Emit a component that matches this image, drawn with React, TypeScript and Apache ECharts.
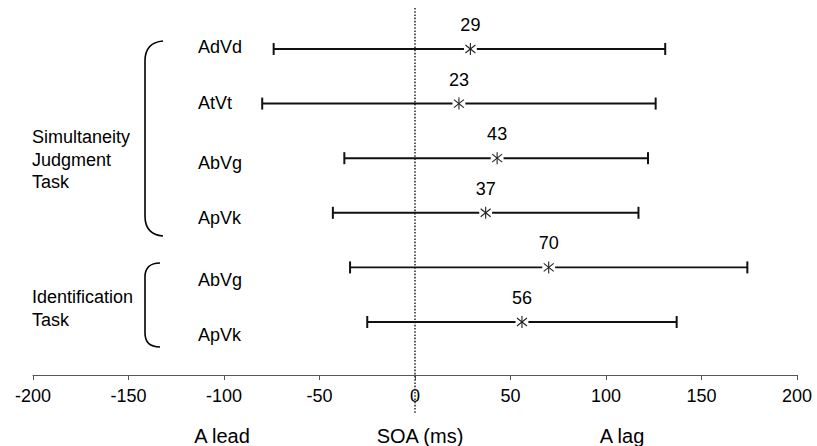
import React, { useEffect, useRef } from "react";
import * as echarts from "echarts";

// ---- data ----
const rowNames = ["AdVd", "AtVt", "AbVg", "ApVk", "AbVg", "ApVk"];
const lowerBounds = [-74, -80, -37, -43, -34, -25];
const upperBounds = [131, 126, 122, 117, 174, 137];
const means = [29, 23, 43, 37, 70, 56];
const xTicks = [-200, -150, -100, -50, 0, 50, 100, 150, 200];
const groupSim = ["Simultaneity", "Judgment", "Task"];
const groupId = ["Identification", "Task"];
const axisTitles = ["A lead", "SOA (ms)", "A lag"];

const FONT = "'Liberation Sans', Arial, Helvetica, sans-serif";

echarts.graphic.registerShape(
  "bracketTall",
  echarts.graphic.extendPath("M18,0 C6,1 0,8 0,20 L0,175 C0,187 6,194 18,195", {})
);
echarts.graphic.registerShape(
  "bracketShort",
  echarts.graphic.extendPath("M15,0 C5,0 0,5 0,14 L0,70 C0,79 5,84 15,84", {})
);

export default function App() {
  const ref = useRef<HTMLDivElement>(null);

  useEffect(() => {
    if (!ref.current) return;
    const chart = echarts.init(ref.current, null, { renderer: "svg" });

    const barData = rowNames.map((_, i) => [i, lowerBounds[i], upperBounds[i], means[i]]);

    const rowLabelY = [47, 103, 163, 218, 280, 335];
    const graphics: any[] = [];
    rowNames.forEach((name, i) => {
      graphics.push({
        type: "text",
        x: 198,
        y: rowLabelY[i],
        style: { text: name, fontSize: 18, fontFamily: FONT, fill: "#000", verticalAlign: "middle", align: "left" },
      });
    });
    groupSim.forEach((t, i) => {
      graphics.push({
        type: "text",
        x: 32,
        y: 137 + i * 22.5,
        style: { text: t, fontSize: 18, fontFamily: FONT, fill: "#000", verticalAlign: "middle", align: "left" },
      });
    });
    groupId.forEach((t, i) => {
      graphics.push({
        type: "text",
        x: 32,
        y: 297 + i * 23,
        style: { text: t, fontSize: 18, fontFamily: FONT, fill: "#000", verticalAlign: "middle", align: "left" },
      });
    });
    const titleX = [222, 420, 622];
    axisTitles.forEach((t, i) => {
      graphics.push({
        type: "text",
        x: titleX[i],
        y: 436,
        style: { text: t, fontSize: 20, fontFamily: FONT, fill: "#000", verticalAlign: "middle", align: "center" },
      });
    });
    graphics.push({
      type: "bracketTall",
      x: 145,
      y: 41,
      style: { stroke: "#000", fill: "none", lineWidth: 1.6 },
    });
    graphics.push({
      type: "bracketShort",
      x: 145,
      y: 263,
      style: { stroke: "#000", fill: "none", lineWidth: 1.6 },
    });

    chart.setOption({
      animation: false,
      backgroundColor: "#fff",
      grid: { left: 33, right: 20, top: 8, bottom: 71, containLabel: false },
      xAxis: {
        type: "value",
        min: xTicks[0],
        max: xTicks[xTicks.length - 1],
        interval: 50,
        axisLine: { show: true, onZero: false, lineStyle: { color: "#555", width: 1 } },
        axisTick: { show: true, length: 5, lineStyle: { color: "#555", width: 1 } },
        axisLabel: { fontSize: 18, color: "#000", margin: 12, fontFamily: FONT },
        splitLine: { show: false },
      },
      yAxis: {
        type: "value",
        min: -0.75,
        max: 5.97,
        inverse: true,
        show: false,
        splitLine: { show: false },
      },
      graphic: graphics,
      series: [
        {
          type: "line",
          data: [
            [0, -0.75],
            [0, 6.67],
          ],
          clip: false,
          symbol: "none",
          silent: true,
          lineStyle: { type: "dotted", color: "#333", width: 1.6 },
          z: 1,
        },
        {
          type: "custom",
          data: barData,
          encode: { x: [1, 2, 3], y: 0 },
          clip: false,
          z: 3,
          renderItem: (_params: any, api: any) => {
            const row = api.value(0);
            const lo = api.coord([api.value(1), row]);
            const hi = api.coord([api.value(2), row]);
            const mid = api.coord([api.value(3), row]);
            const y = lo[1];
            const stroke = "#111";
            const mx = mid[0];
            return {
              type: "group",
              children: [
                { type: "line", shape: { x1: lo[0], y1: y, x2: hi[0], y2: y }, style: { stroke, lineWidth: 1.9 } },
                { type: "line", shape: { x1: lo[0], y1: y - 6, x2: lo[0], y2: y + 6 }, style: { stroke, lineWidth: 2 } },
                { type: "line", shape: { x1: hi[0], y1: y - 6, x2: hi[0], y2: y + 6 }, style: { stroke, lineWidth: 2 } },
                { type: "circle", shape: { cx: mx, cy: y, r: 6.5 }, style: { fill: "#fff", stroke: null } },
                { type: "line", shape: { x1: mx, y1: y - 6, x2: mx, y2: y + 6 }, style: { stroke: "#222", lineWidth: 1.1 } },
                { type: "line", shape: { x1: mx - 5, y1: y - 4, x2: mx + 5, y2: y + 4 }, style: { stroke: "#222", lineWidth: 1.1 } },
                { type: "line", shape: { x1: mx - 5, y1: y + 4, x2: mx + 5, y2: y - 4 }, style: { stroke: "#222", lineWidth: 1.1 } },
                {
                  type: "text",
                  x: mx,
                  y: y - 24,
                  style: {
                    text: String(api.value(3)),
                    fontSize: 18,
                    fontFamily: FONT,
                    fill: "#000",
                    align: "center",
                    verticalAlign: "middle",
                  },
                },
              ],
            };
          },
        },
      ],
    });

    return () => chart.dispose();
  }, []);

  return (
    <div
      ref={ref}
      style={{ position: "fixed", left: 0, top: 0, width: 817, height: 446, background: "#fff" }}
    />
  );
}
